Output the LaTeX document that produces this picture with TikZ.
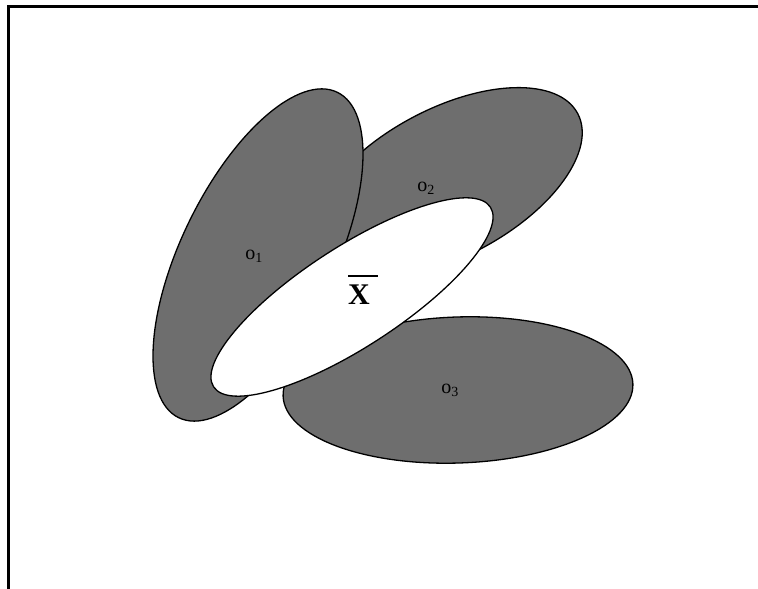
\documentclass[tikz,border=0pt]{standalone}
\usepackage{fontspec}
\setmainfont{Liberation Serif}
\usetikzlibrary{shapes.geometric}

\begin{document}
\begin{tikzpicture}[
    x=1pt, y=1pt,
    blob/.style={ellipse, draw, line width=1.3pt, fill=black!57,
                 inner sep=0pt},
    mean/.style={ellipse, draw, line width=1.3pt, fill=white,
                 inner sep=0pt},
    lbl/.style={font=\fontsize{20}{20}\selectfont, inner sep=0pt}
]
\useasboundingbox (0,0) rectangle (758,589);
\draw[line width=3pt] (758,582.5) -- (8.5,582.5) -- (8.5,0);

\node[blob, rotate=28, minimum width=296, minimum height=148] (o2) at (447,406) {};
\node[blob, rotate=64, minimum width=362, minimum height=153] (o1) at (258,334) {};
\node[blob, rotate=2, minimum width=350, minimum height=146] (o3) at (458,199) {};
\node[mean, rotate=33, minimum width=330, minimum height=100] (xbar) at (352,292) {};

\node[lbl] (l1) at (254,333) {o\textsubscript{1}};
\node[lbl] (l2) at (426,401) {o\textsubscript{2}};
\node[lbl] (l3) at (450,199) {o\textsubscript{3}};
\node[inner sep=0pt, anchor=base west, font=\fontsize{30}{30}\selectfont\bfseries]
    (lx) at (348,284) {\rlap{\raisebox{28pt}{\rule{30pt}{1.6pt}}}X};
\end{tikzpicture}
\end{document}
